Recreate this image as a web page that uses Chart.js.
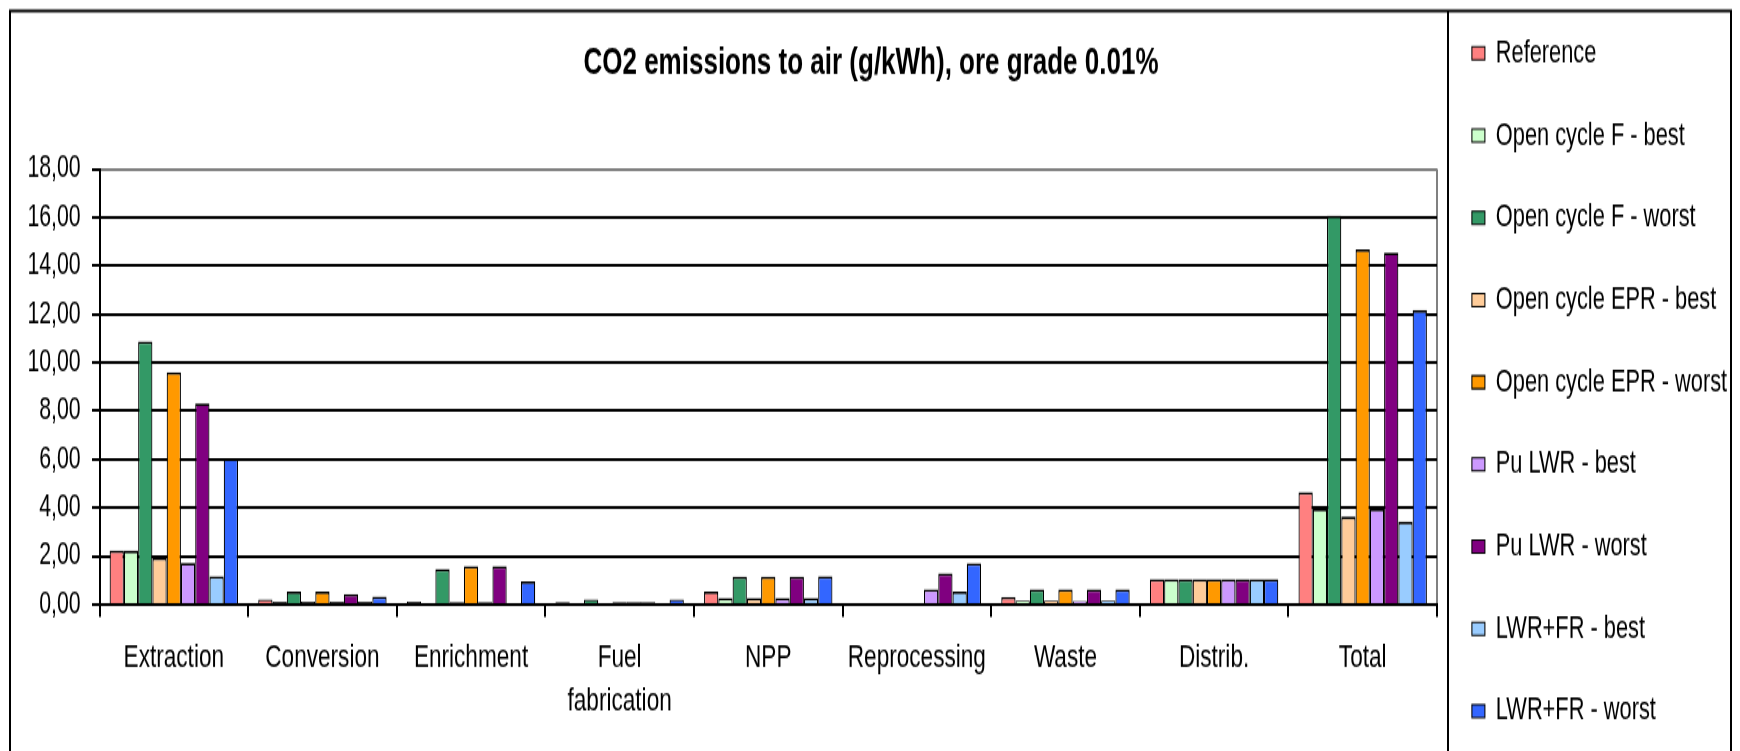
<!DOCTYPE html>
<html>
<head>
<meta charset="utf-8">
<script src="https://cdn.jsdelivr.net/npm/chart.js@4/dist/chart.umd.min.js"></script>
<style>
  html, body { margin: 0; padding: 0; background: #fff; }
  #page { position: relative; width: 1740px; height: 751px; overflow: hidden; background: #fff; }
  /* the chart is laid out on a shorter canvas and stretched vertically */
  #stage { position: absolute; left: 0; top: 0; width: 1740px; height: 518px; transform-origin: 0 0; transform: scaleY(1.4498); }
  canvas { display: block; }
</style>
</head>
<body>
<div id="page"><div id="stage"><canvas id="chart" width="1740" height="518"></canvas></div></div>
<script>
// ---- data ----
const categories = ['Extraction', 'Conversion', 'Enrichment', ['Fuel', 'fabrication'], 'NPP', 'Reprocessing', 'Waste', 'Distrib.', 'Total'];

const seriesNames = [
  'Reference',
  'Open cycle F - best',
  'Open cycle F - worst',
  'Open cycle EPR - best',
  'Open cycle EPR - worst',
  'Pu LWR - best',
  'Pu LWR - worst',
  'LWR+FR - best',
  'LWR+FR - worst'
];

const referenceValues = [2.23, 0.21, 0.12, 0.10, 0.53, 0.00, 0.31, 1.05, 4.64];
const openFBest       = [2.22, 0.11, 0.00, 0.00, 0.27, 0.00, 0.16, 1.05, 3.95];
const openFWorst      = [10.87, 0.53, 1.47, 0.20, 1.15, 0.00, 0.62, 1.05, 16.07];
const openEprBest     = [1.93, 0.11, 0.10, 0.00, 0.27, 0.00, 0.16, 1.05, 3.63];
const openEprWorst    = [9.60, 0.53, 1.58, 0.10, 1.15, 0.00, 0.62, 1.05, 14.68];
const puLwrBest       = [1.72, 0.11, 0.10, 0.10, 0.27, 0.63, 0.15, 1.05, 3.95];
const puLwrWorst      = [8.31, 0.43, 1.58, 0.10, 1.15, 1.29, 0.62, 1.05, 14.55];
const lwrFrBest       = [1.16, 0.11, 0.00, 0.00, 0.27, 0.53, 0.16, 1.05, 3.42];
const lwrFrWorst      = [6.03, 0.32, 0.95, 0.20, 1.17, 1.70, 0.62, 1.05, 12.17];

const yTickLabels = ['0,00', '2,00', '4,00', '6,00', '8,00', '10,00', '12,00', '14,00', '16,00', '18,00'];

const chartTitle = 'CO2 emissions to air (g/kWh), ore grade 0.01%';

// ---- styling ----
const seriesColors = ['#FF8080', '#CCFFCC', '#339966', '#FFCC99', '#FF9900', '#CC99FF', '#800080', '#99CCFF', '#3366FF'];
const seriesValues = [referenceValues, openFBest, openFWorst, openEprBest, openEprWorst, puLwrBest, puLwrWorst, lwrFrBest, lwrFrWorst];

const FONT = "'Liberation Sans', Arial, sans-serif";
Chart.defaults.font.family = FONT;
Chart.defaults.color = '#000';

// very short bars are covered entirely by their outline
const outlineOnly = 0.13;

// outer frame, legend frame and the grey right edge of the plot area
const framePlugin = {
  id: 'frames',
  beforeDraw(chart) {
    const { ctx, chartArea } = chart;
    const h = chart.height;
    ctx.save();
    ctx.fillStyle = '#fff';
    ctx.fillRect(0, 0, chart.width, h);
    ctx.strokeStyle = '#000';
    ctx.lineWidth = 2;
    ctx.beginPath();
    ctx.moveTo(10, h + 5);
    ctx.lineTo(10, 7.4);
    ctx.lineTo(1731, 7.4);
    ctx.lineTo(1731, h + 5);
    ctx.moveTo(chartArea.right + 11, 7.4);
    ctx.lineTo(chartArea.right + 11, h + 5);
    ctx.stroke();
    ctx.strokeStyle = '#808080';
    ctx.beginPath();
    ctx.moveTo(chartArea.right, chartArea.top);
    ctx.lineTo(chartArea.right, chartArea.bottom);
    ctx.stroke();
    ctx.restore();
  }
};

const datasets = seriesNames.map((name, i) => ({
  label: name,
  data: seriesValues[i],
  backgroundColor: (c) => (typeof c.raw === 'number' && c.raw > 0 && c.raw < outlineOnly ? '#000' : seriesColors[i]),
  borderColor: '#000',
  borderWidth: { top: 1.8, left: 1.2, right: 1.2, bottom: 0 },
  categoryPercentage: 0.864,
  barPercentage: 1.0
}));

new Chart(document.getElementById('chart'), {
  type: 'bar',
  data: { labels: categories, datasets },
  plugins: [framePlugin],
  options: {
    responsive: false,
    animation: false,
    devicePixelRatio: 1,
    events: [],
    layout: { padding: { top: -9, right: 12, bottom: -30, left: 14 } },
    plugins: {
      title: {
        display: true,
        text: chartTitle,
        color: '#000',
        font: { family: FONT, size: 26, weight: 'bold', lineHeight: 1.2 },
        padding: { top: 36.9, bottom: 57.5 }
      },
      legend: {
        display: true,
        position: 'right',
        align: 'start',
        maxWidth: 291,
        labels: {
          color: '#000',
          font: { family: FONT, size: 21.8 },
          boxWidth: 13,
          boxHeight: 9,
          padding: 34.9
        }
      },
      tooltip: { enabled: false }
    },
    scales: {
      x: {
        grid: {
          display: true,
          drawOnChartArea: false,
          drawTicks: true,
          tickLength: 8.5,
          color: '#000',
          lineWidth: 2,
          offset: true
        },
        border: { display: true, color: '#000', width: 2 },
        ticks: {
          color: '#000',
          font: { family: FONT, size: 22.6, lineHeight: 1.36 },
          padding: 12.5,
          maxRotation: 0,
          minRotation: 0,
          autoSkip: false
        },
        afterFit(scale) { scale.height = 131.1; }
      },
      y: {
        min: 0,
        max: 18,
        ticks: {
          stepSize: 2,
          color: '#000',
          font: { family: FONT, size: 21.3 },
          padding: 11.3,
          callback: (value, index) => yTickLabels[index]
        },
        grid: {
          color: (c) => (c.tick && c.tick.value === 18 ? '#808080' : '#000'),
          tickColor: '#000',
          lineWidth: 2,
          tickLength: 7.5,
          drawTicks: true
        },
        border: { display: true, color: '#000', width: 2 },
        afterFit(scale) { scale.width = 85.5; }
      }
    }
  }
});
</script>
</body>
</html>
